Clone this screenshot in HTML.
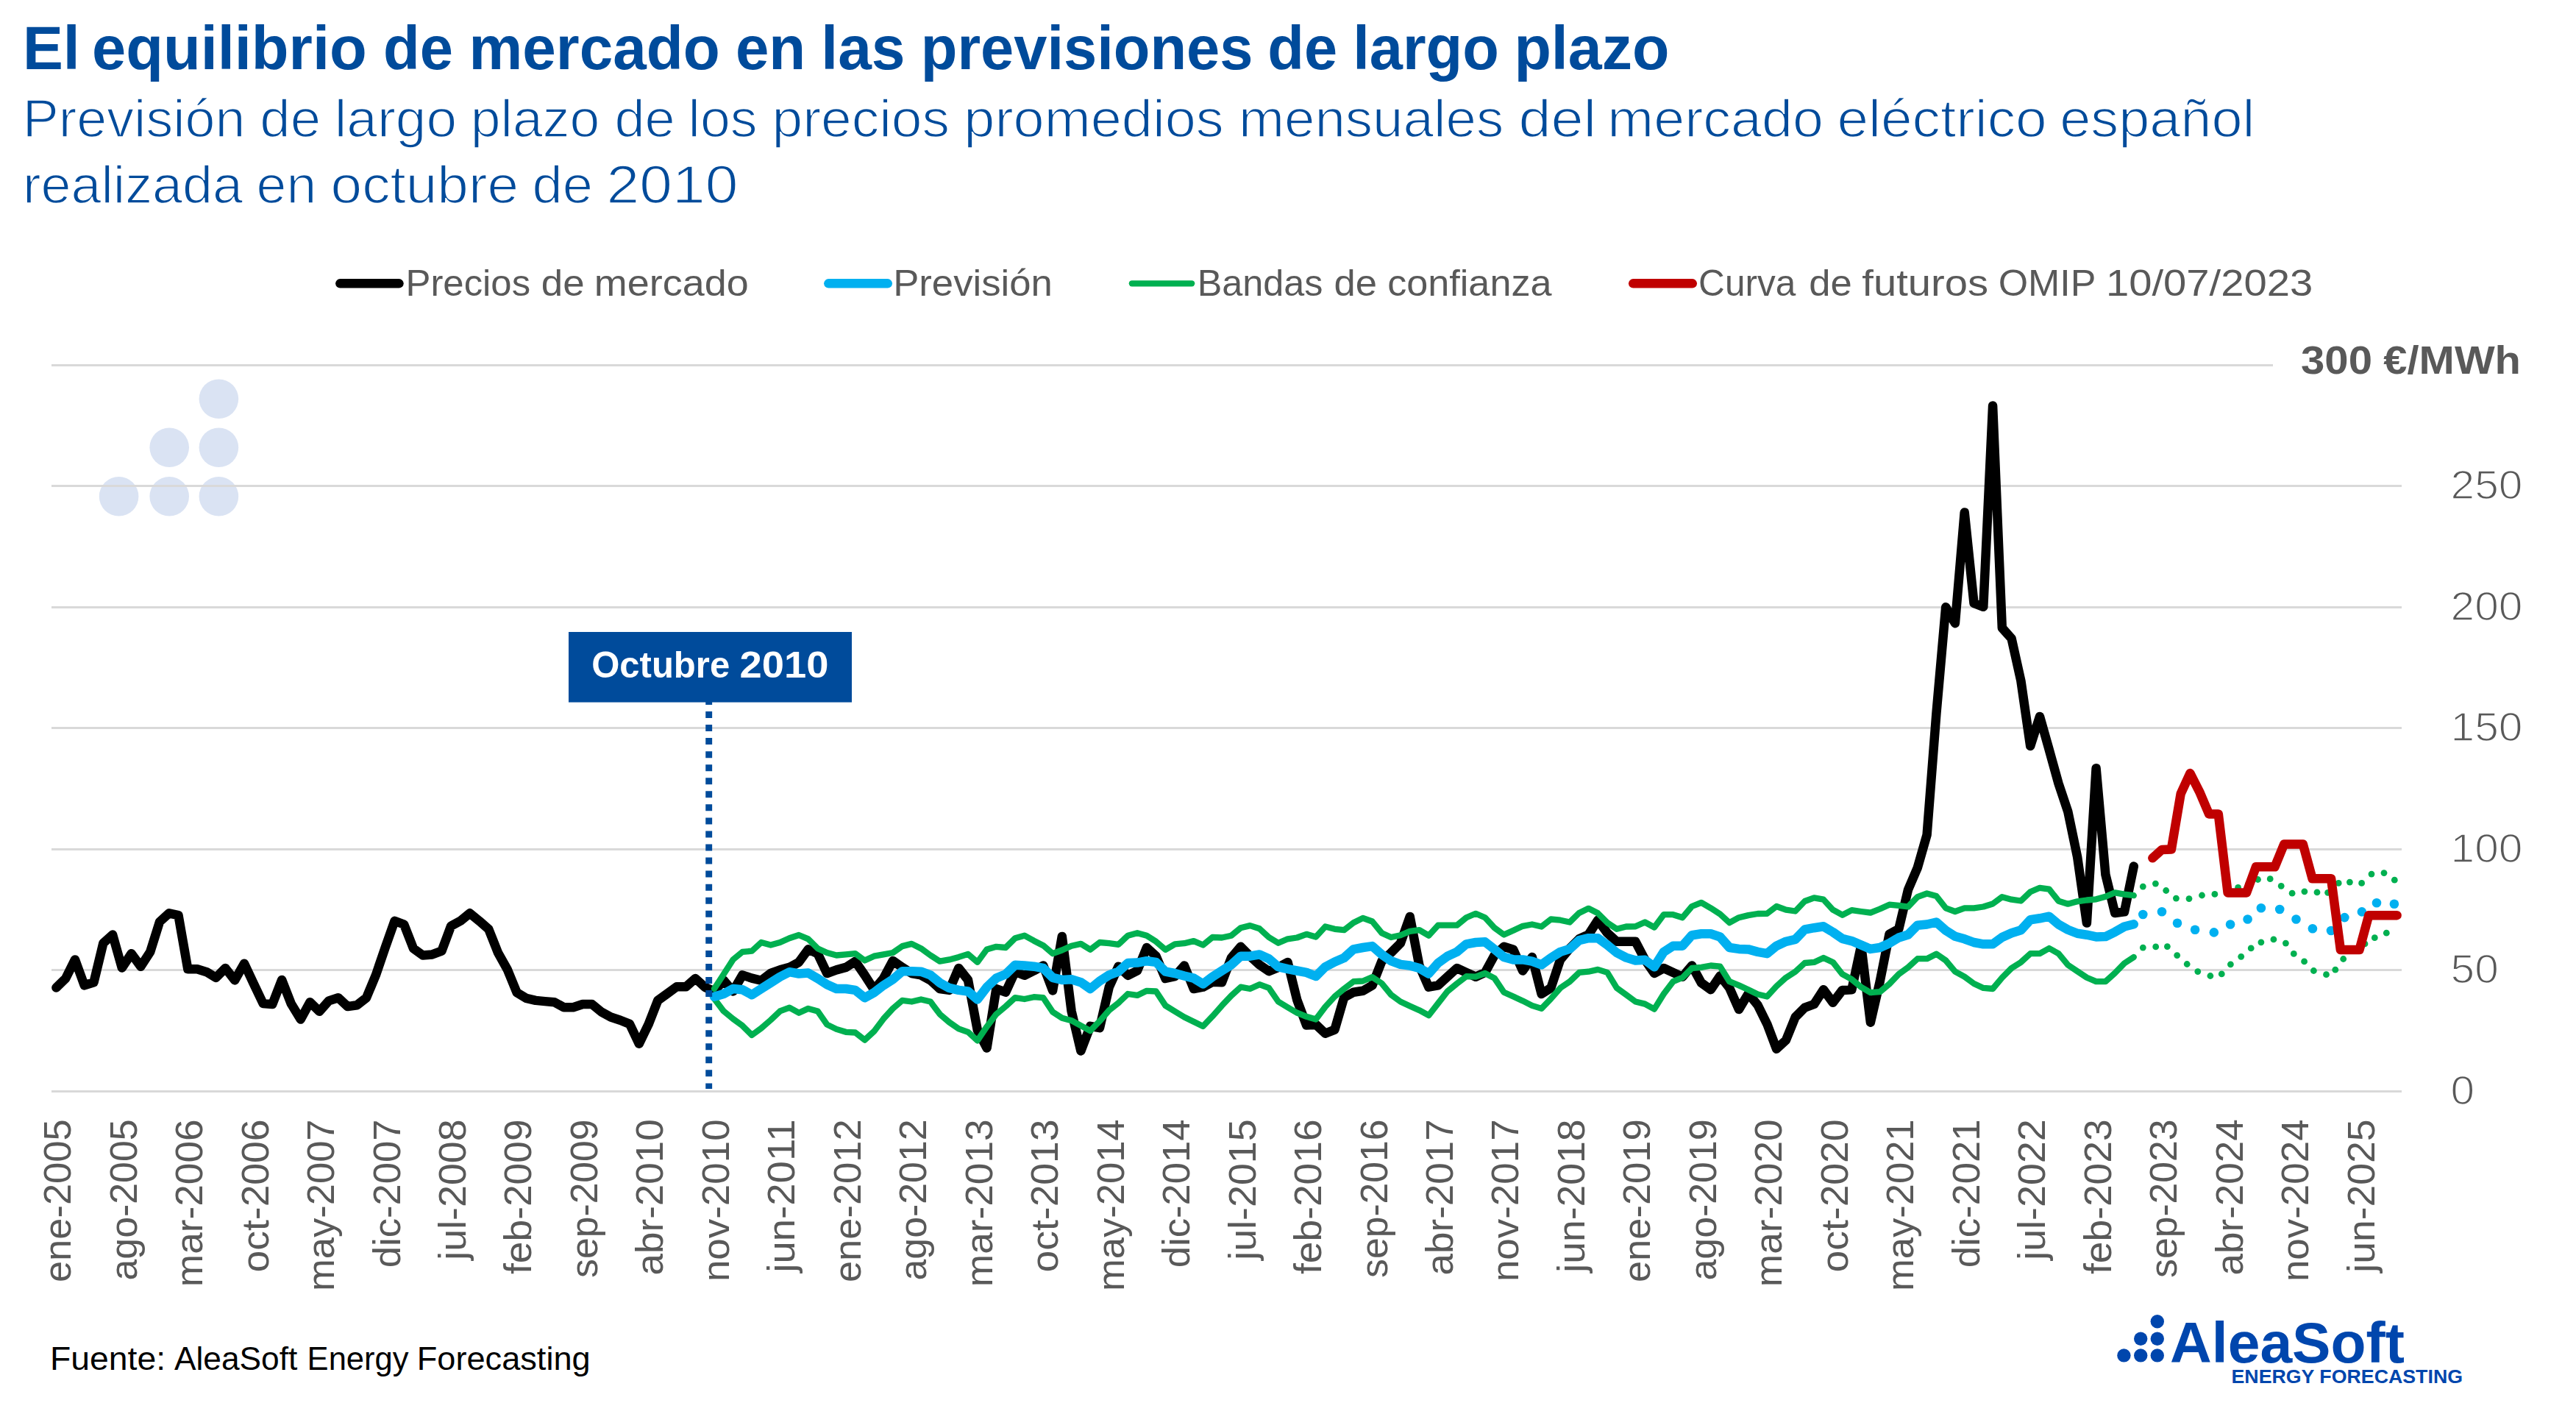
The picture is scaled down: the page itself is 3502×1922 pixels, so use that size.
<!DOCTYPE html>
<html><head><meta charset="utf-8"><title>El equilibrio de mercado en las previsiones de largo plazo</title>
<style>
html,body{margin:0;padding:0;background:#fff;}
body{width:3502px;height:1922px;overflow:hidden;}
svg{display:block;font-family:"Liberation Sans",sans-serif;}
text{white-space:pre;}
</style></head><body>
<svg width="3502" height="1922" viewBox="0 0 3502 1922">
<rect width="3502" height="1922" fill="#fff"/>
<text x="31.0" y="93.9" font-size="83" font-weight="bold" fill="#004B9B" text-anchor="start" textLength="77.7" lengthAdjust="spacingAndGlyphs">El</text>
<text x="125.0" y="93.9" font-size="83" font-weight="bold" fill="#004B9B" text-anchor="start" textLength="373.7" lengthAdjust="spacingAndGlyphs">equilibrio</text>
<text x="521.0" y="93.9" font-size="83" font-weight="bold" fill="#004B9B" text-anchor="start" textLength="95.0" lengthAdjust="spacingAndGlyphs">de</text>
<text x="637.4" y="93.9" font-size="83" font-weight="bold" fill="#004B9B" text-anchor="start" textLength="341.4" lengthAdjust="spacingAndGlyphs">mercado</text>
<text x="999.9" y="93.9" font-size="83" font-weight="bold" fill="#004B9B" text-anchor="start" textLength="95.4" lengthAdjust="spacingAndGlyphs">en</text>
<text x="1116.3" y="93.9" font-size="83" font-weight="bold" fill="#004B9B" text-anchor="start" textLength="114.3" lengthAdjust="spacingAndGlyphs">las</text>
<text x="1251.8" y="93.9" font-size="83" font-weight="bold" fill="#004B9B" text-anchor="start" textLength="451.7" lengthAdjust="spacingAndGlyphs">previsiones</text>
<text x="1723.3" y="93.9" font-size="83" font-weight="bold" fill="#004B9B" text-anchor="start" textLength="94.8" lengthAdjust="spacingAndGlyphs">de</text>
<text x="1839.2" y="93.9" font-size="83" font-weight="bold" fill="#004B9B" text-anchor="start" textLength="198.6" lengthAdjust="spacingAndGlyphs">largo</text>
<text x="2058.4" y="93.9" font-size="83" font-weight="bold" fill="#004B9B" text-anchor="start" textLength="211.1" lengthAdjust="spacingAndGlyphs">plazo</text>
<text x="30.8" y="186.0" font-size="72.2" font-weight="normal" fill="#004B9B" text-anchor="start" textLength="302.6" lengthAdjust="spacingAndGlyphs" stroke="#fff" stroke-width="1.6">Previsión</text>
<text x="353.3" y="186.0" font-size="72.2" font-weight="normal" fill="#004B9B" text-anchor="start" textLength="82.8" lengthAdjust="spacingAndGlyphs" stroke="#fff" stroke-width="1.6">de</text>
<text x="454.7" y="186.0" font-size="72.2" font-weight="normal" fill="#004B9B" text-anchor="start" textLength="166.3" lengthAdjust="spacingAndGlyphs" stroke="#fff" stroke-width="1.6">largo</text>
<text x="639.8" y="186.0" font-size="72.2" font-weight="normal" fill="#004B9B" text-anchor="start" textLength="175.5" lengthAdjust="spacingAndGlyphs" stroke="#fff" stroke-width="1.6">plazo</text>
<text x="835.4" y="186.0" font-size="72.2" font-weight="normal" fill="#004B9B" text-anchor="start" textLength="82.4" lengthAdjust="spacingAndGlyphs" stroke="#fff" stroke-width="1.6">de</text>
<text x="935.6" y="186.0" font-size="72.2" font-weight="normal" fill="#004B9B" text-anchor="start" textLength="94.0" lengthAdjust="spacingAndGlyphs" stroke="#fff" stroke-width="1.6">los</text>
<text x="1049.5" y="186.0" font-size="72.2" font-weight="normal" fill="#004B9B" text-anchor="start" textLength="241.5" lengthAdjust="spacingAndGlyphs" stroke="#fff" stroke-width="1.6">precios</text>
<text x="1310.3" y="186.0" font-size="72.2" font-weight="normal" fill="#004B9B" text-anchor="start" textLength="353.4" lengthAdjust="spacingAndGlyphs" stroke="#fff" stroke-width="1.6">promedios</text>
<text x="1683.9" y="186.0" font-size="72.2" font-weight="normal" fill="#004B9B" text-anchor="start" textLength="360.3" lengthAdjust="spacingAndGlyphs" stroke="#fff" stroke-width="1.6">mensuales</text>
<text x="2064.4" y="186.0" font-size="72.2" font-weight="normal" fill="#004B9B" text-anchor="start" textLength="105.8" lengthAdjust="spacingAndGlyphs" stroke="#fff" stroke-width="1.6">del</text>
<text x="2185.3" y="186.0" font-size="72.2" font-weight="normal" fill="#004B9B" text-anchor="start" textLength="293.6" lengthAdjust="spacingAndGlyphs" stroke="#fff" stroke-width="1.6">mercado</text>
<text x="2497.4" y="186.0" font-size="72.2" font-weight="normal" fill="#004B9B" text-anchor="start" textLength="285.2" lengthAdjust="spacingAndGlyphs" stroke="#fff" stroke-width="1.6">eléctrico</text>
<text x="2800.2" y="186.0" font-size="72.2" font-weight="normal" fill="#004B9B" text-anchor="start" textLength="265.2" lengthAdjust="spacingAndGlyphs" stroke="#fff" stroke-width="1.6">español</text>
<text x="30.9" y="276.0" font-size="72.2" font-weight="normal" fill="#004B9B" text-anchor="start" textLength="299.2" lengthAdjust="spacingAndGlyphs" stroke="#fff" stroke-width="1.6">realizada</text>
<text x="348.6" y="276.0" font-size="72.2" font-weight="normal" fill="#004B9B" text-anchor="start" textLength="81.6" lengthAdjust="spacingAndGlyphs" stroke="#fff" stroke-width="1.6">en</text>
<text x="449.6" y="276.0" font-size="72.2" font-weight="normal" fill="#004B9B" text-anchor="start" textLength="255.4" lengthAdjust="spacingAndGlyphs" stroke="#fff" stroke-width="1.6">octubre</text>
<text x="723.6" y="276.0" font-size="72.2" font-weight="normal" fill="#004B9B" text-anchor="start" textLength="82.4" lengthAdjust="spacingAndGlyphs" stroke="#fff" stroke-width="1.6">de</text>
<text x="824.6" y="276.0" font-size="72.2" font-weight="normal" fill="#004B9B" text-anchor="start" textLength="178.8" lengthAdjust="spacingAndGlyphs" stroke="#fff" stroke-width="1.6">2010</text>
<line x1="70" y1="496.5" x2="3090" y2="496.5" stroke="#D9D9D9" stroke-width="3"/>
<line x1="70" y1="660.5" x2="3265" y2="660.5" stroke="#D9D9D9" stroke-width="3"/>
<line x1="70" y1="825.5" x2="3265" y2="825.5" stroke="#D9D9D9" stroke-width="3"/>
<line x1="70" y1="989.5" x2="3265" y2="989.5" stroke="#D9D9D9" stroke-width="3"/>
<line x1="70" y1="1154.5" x2="3265" y2="1154.5" stroke="#D9D9D9" stroke-width="3"/>
<line x1="70" y1="1318.5" x2="3265" y2="1318.5" stroke="#D9D9D9" stroke-width="3"/>
<line x1="70" y1="1483.5" x2="3265" y2="1483.5" stroke="#D9D9D9" stroke-width="3"/>
<circle cx="297.4" cy="542.2" r="26.8" fill="#DAE3F3"/>
<circle cx="230.2" cy="608.3" r="26.8" fill="#DAE3F3"/>
<circle cx="297.4" cy="608.3" r="26.8" fill="#DAE3F3"/>
<circle cx="161.6" cy="674.8" r="26.8" fill="#DAE3F3"/>
<circle cx="230.2" cy="674.8" r="26.8" fill="#DAE3F3"/>
<circle cx="297.4" cy="674.8" r="26.8" fill="#DAE3F3"/>
<line x1="70" y1="660.5" x2="3265" y2="660.5" stroke="#D9D9D9" stroke-width="3"/>
<text x="3128.0" y="508.0" font-size="54.5" font-weight="bold" fill="#595959" text-anchor="start" textLength="97.0" lengthAdjust="spacingAndGlyphs">300</text>
<text x="3240.3" y="508.0" font-size="54.5" font-weight="bold" fill="#595959" text-anchor="start" textLength="186.7" lengthAdjust="spacingAndGlyphs">€/MWh</text>
<text x="3331.6" y="677.7" font-size="56" font-weight="normal" fill="#595959" text-anchor="start" textLength="97.8" lengthAdjust="spacingAndGlyphs" stroke="#fff" stroke-width="1.5">250</text>
<text x="3331.6" y="842.7" font-size="56" font-weight="normal" fill="#595959" text-anchor="start" textLength="97.8" lengthAdjust="spacingAndGlyphs" stroke="#fff" stroke-width="1.5">200</text>
<text x="3331.6" y="1006.7" font-size="56" font-weight="normal" fill="#595959" text-anchor="start" textLength="97.8" lengthAdjust="spacingAndGlyphs" stroke="#fff" stroke-width="1.5">150</text>
<text x="3331.6" y="1171.7" font-size="56" font-weight="normal" fill="#595959" text-anchor="start" textLength="97.8" lengthAdjust="spacingAndGlyphs" stroke="#fff" stroke-width="1.5">100</text>
<text x="3331.6" y="1335.7" font-size="56" font-weight="normal" fill="#595959" text-anchor="start" textLength="65.2" lengthAdjust="spacingAndGlyphs" stroke="#fff" stroke-width="1.5">50</text>
<text x="3331.6" y="1500.7" font-size="56" font-weight="normal" fill="#595959" text-anchor="start" textLength="32.6" lengthAdjust="spacingAndGlyphs" stroke="#fff" stroke-width="1.5">0</text>
<path d="M76.4 1342.4 L89.2 1330.0 L102.0 1304.4 L114.7 1339.4 L127.5 1335.2 L140.3 1282.2 L153.1 1270.5 L165.8 1315.6 L178.6 1296.2 L191.4 1313.7 L204.2 1293.9 L217.0 1253.0 L229.8 1241.3 L242.5 1244.1 L255.3 1317.2 L268.1 1317.2 L280.9 1321.2 L293.6 1328.9 L306.4 1316.0 L319.2 1332.4 L332.0 1309.7 L344.8 1337.0 L357.6 1363.9 L370.3 1365.0 L383.1 1331.9 L395.9 1364.6 L408.7 1385.6 L421.4 1362.2 L434.2 1374.8 L447.0 1360.4 L459.8 1356.2 L472.6 1368.1 L485.3 1366.2 L498.1 1356.2 L510.9 1325.4 L523.7 1288.0 L536.5 1251.8 L549.2 1256.5 L562.0 1289.2 L574.8 1298.5 L587.6 1297.4 L600.4 1292.7 L613.1 1258.8 L625.9 1251.8 L638.7 1241.3 L651.5 1251.8 L664.3 1263.0 L677.0 1295.0 L689.8 1317.9 L702.6 1349.2 L715.4 1356.9 L728.2 1359.9 L740.9 1361.1 L753.7 1362.2 L766.5 1369.2 L779.3 1369.2 L792.1 1365.0 L804.8 1365.0 L817.6 1375.5 L830.4 1382.5 L843.2 1386.7 L856.0 1391.9 L868.8 1418.7 L881.5 1392.6 L894.3 1359.9 L907.1 1350.6 L919.9 1341.2 L932.6 1341.2 L945.4 1330.0 L958.2 1341.7 L971.0 1347.5 L983.8 1332.4 L996.5 1347.5 L1009.3 1325.4 L1022.1 1329.6 L1034.9 1332.8 L1047.7 1323.0 L1060.4 1318.4 L1073.2 1314.9 L1086.0 1307.9 L1098.8 1290.4 L1111.6 1296.2 L1124.3 1323.0 L1137.1 1318.4 L1149.9 1314.9 L1162.7 1306.7 L1175.5 1325.4 L1188.2 1345.2 L1201.0 1330.0 L1213.8 1306.0 L1226.6 1314.9 L1239.4 1323.0 L1252.1 1325.4 L1264.9 1332.4 L1277.7 1344.0 L1290.5 1345.9 L1303.3 1316.0 L1316.0 1332.0 L1328.8 1400.0 L1341.6 1424.5 L1354.4 1344.0 L1367.2 1348.7 L1380.0 1320.7 L1392.7 1325.8 L1405.5 1319.5 L1418.3 1312.5 L1431.1 1346.4 L1443.8 1272.9 L1456.6 1374.4 L1469.4 1428.5 L1482.2 1394.9 L1495.0 1397.2 L1507.8 1341.7 L1520.5 1313.7 L1533.3 1325.8 L1546.1 1319.5 L1558.9 1288.0 L1571.6 1299.7 L1584.4 1330.0 L1597.2 1327.2 L1610.0 1312.5 L1622.8 1344.0 L1635.5 1341.7 L1648.3 1334.7 L1661.1 1335.2 L1673.9 1302.0 L1686.7 1286.8 L1699.4 1299.7 L1712.2 1311.4 L1725.0 1320.2 L1737.8 1314.9 L1750.6 1307.9 L1763.3 1359.2 L1776.1 1393.5 L1788.9 1392.6 L1801.7 1404.7 L1814.5 1399.6 L1827.2 1355.7 L1840.0 1348.7 L1852.8 1346.8 L1865.6 1339.4 L1878.4 1306.7 L1891.1 1295.0 L1903.9 1282.2 L1916.7 1246.0 L1929.5 1312.5 L1942.3 1341.7 L1955.0 1339.4 L1967.8 1327.7 L1980.6 1316.0 L1993.4 1321.9 L2006.2 1327.7 L2018.9 1321.9 L2031.7 1298.5 L2044.5 1286.8 L2057.3 1290.8 L2070.1 1319.5 L2082.8 1300.9 L2095.6 1351.0 L2108.4 1342.9 L2121.2 1304.4 L2134.0 1289.2 L2146.8 1276.3 L2159.5 1270.5 L2172.3 1250.7 L2185.1 1268.2 L2197.9 1279.8 L2210.7 1279.8 L2223.4 1279.8 L2236.2 1304.4 L2249.0 1323.0 L2261.8 1316.0 L2274.5 1321.9 L2287.3 1327.7 L2300.1 1312.5 L2312.9 1335.9 L2325.7 1345.2 L2338.4 1326.5 L2351.2 1342.9 L2364.0 1372.0 L2376.8 1350.6 L2389.6 1366.2 L2402.3 1391.9 L2415.1 1425.7 L2427.9 1414.0 L2440.7 1382.5 L2453.5 1369.7 L2466.2 1365.0 L2479.0 1345.2 L2491.8 1362.7 L2504.6 1345.9 L2517.4 1345.2 L2530.2 1285.4 L2542.9 1389.7 L2555.7 1334.1 L2568.5 1269.7 L2581.3 1262.7 L2594.0 1209.4 L2606.8 1179.5 L2619.6 1134.8 L2632.4 969.9 L2645.2 825.2 L2657.9 847.2 L2670.7 696.5 L2683.5 819.9 L2696.3 824.8 L2709.1 551.4 L2721.8 853.5 L2734.6 867.9 L2747.4 925.5 L2760.2 1014.0 L2773.0 973.9 L2785.8 1019.3 L2798.5 1065.0 L2811.3 1103.2 L2824.1 1164.7 L2836.9 1254.5 L2849.6 1044.3 L2862.4 1188.7 L2875.2 1241.0 L2888.0 1239.4 L2900.8 1177.5" fill="none" stroke="#000" stroke-width="12.5" stroke-linecap="round" stroke-linejoin="round"/>
<path d="M971.0 1344.0 L983.8 1324.2 L996.5 1304.4 L1009.3 1293.9 L1022.1 1292.7 L1034.9 1281.0 L1047.7 1284.5 L1060.4 1281.0 L1073.2 1275.2 L1086.0 1271.0 L1098.8 1276.3 L1111.6 1289.2 L1124.3 1295.0 L1137.1 1298.5 L1149.9 1297.4 L1162.7 1296.2 L1175.5 1305.5 L1188.2 1299.7 L1201.0 1297.4 L1213.8 1295.0 L1226.6 1286.1 L1239.4 1282.9 L1252.1 1289.2 L1264.9 1298.5 L1277.7 1306.7 L1290.5 1304.4 L1303.3 1300.9 L1316.0 1296.9 L1328.8 1307.9 L1341.6 1290.4 L1354.4 1286.8 L1367.2 1288.0 L1380.0 1275.2 L1392.7 1271.7 L1405.5 1278.7 L1418.3 1285.2 L1431.1 1296.2 L1443.8 1291.5 L1456.6 1285.7 L1469.4 1282.9 L1482.2 1290.8 L1495.0 1281.0 L1507.8 1282.2 L1520.5 1283.8 L1533.3 1271.7 L1546.1 1268.2 L1558.9 1271.7 L1571.6 1279.8 L1584.4 1290.8 L1597.2 1283.3 L1610.0 1282.2 L1622.8 1279.1 L1635.5 1284.5 L1648.3 1274.0 L1661.1 1274.5 L1673.9 1271.7 L1686.7 1261.2 L1699.4 1258.1 L1712.2 1262.3 L1725.0 1274.0 L1737.8 1281.7 L1750.6 1276.3 L1763.3 1274.5 L1776.1 1269.8 L1788.9 1273.5 L1801.7 1259.5 L1814.5 1262.8 L1827.2 1264.2 L1840.0 1254.2 L1852.8 1247.9 L1865.6 1252.5 L1878.4 1268.2 L1891.1 1274.0 L1903.9 1271.2 L1916.7 1265.8 L1929.5 1264.2 L1942.3 1271.7 L1955.0 1257.7 L1967.8 1257.7 L1980.6 1257.7 L1993.4 1247.2 L2006.2 1241.8 L2018.9 1247.2 L2031.7 1261.2 L2044.5 1270.5 L2057.3 1264.7 L2070.1 1258.8 L2082.8 1256.5 L2095.6 1259.5 L2108.4 1249.5 L2121.2 1250.7 L2134.0 1253.5 L2146.8 1240.9 L2159.5 1234.8 L2172.3 1241.3 L2185.1 1254.2 L2197.9 1262.8 L2210.7 1259.5 L2223.4 1259.3 L2236.2 1253.5 L2249.0 1260.5 L2261.8 1243.2 L2274.5 1243.2 L2287.3 1247.2 L2300.1 1232.0 L2312.9 1226.9 L2325.7 1234.3 L2338.4 1242.5 L2351.2 1254.2 L2364.0 1247.2 L2376.8 1244.1 L2389.6 1242.0 L2402.3 1241.8 L2415.1 1232.0 L2427.9 1236.7 L2440.7 1238.5 L2453.5 1225.0 L2466.2 1220.3 L2479.0 1222.7 L2491.8 1236.7 L2504.6 1243.7 L2517.4 1237.1 L2530.2 1239.0 L2542.9 1240.6 L2555.7 1235.5 L2568.5 1229.7 L2581.3 1230.8 L2594.0 1232.5 L2606.8 1219.2 L2619.6 1214.5 L2632.4 1218.0 L2645.2 1234.3 L2657.9 1239.0 L2670.7 1234.3 L2683.5 1234.3 L2696.3 1232.5 L2709.1 1228.5 L2721.8 1219.2 L2734.6 1222.7 L2747.4 1224.5 L2760.2 1212.2 L2773.0 1206.8 L2785.8 1208.7 L2798.5 1224.7 L2811.3 1228.7 L2824.1 1225.3 L2836.9 1223.5 L2849.6 1222.3 L2862.4 1218.7 L2875.2 1213.3 L2888.0 1215.7 L2900.8 1217.2" fill="none" stroke="#00B050" stroke-width="8.3" stroke-linecap="round" stroke-linejoin="round"/>
<path d="M971.0 1357.5 L983.8 1374.4 L996.5 1384.9 L1009.3 1394.2 L1022.1 1407.0 L1034.9 1397.7 L1047.7 1386.5 L1060.4 1374.4 L1073.2 1369.7 L1086.0 1376.7 L1098.8 1370.9 L1111.6 1374.4 L1124.3 1392.6 L1137.1 1398.9 L1149.9 1402.8 L1162.7 1403.5 L1175.5 1413.6 L1188.2 1401.9 L1201.0 1384.9 L1213.8 1370.9 L1226.6 1359.9 L1239.4 1361.5 L1252.1 1358.5 L1264.9 1361.5 L1277.7 1378.6 L1290.5 1389.5 L1303.3 1398.4 L1316.0 1402.8 L1328.8 1414.5 L1341.6 1395.4 L1354.4 1378.6 L1367.2 1367.8 L1380.0 1356.2 L1392.7 1358.0 L1405.5 1355.2 L1418.3 1356.2 L1431.1 1375.5 L1443.8 1383.7 L1456.6 1387.2 L1469.4 1394.2 L1482.2 1401.2 L1495.0 1387.9 L1507.8 1373.2 L1520.5 1363.2 L1533.3 1351.0 L1546.1 1352.9 L1558.9 1346.8 L1571.6 1347.5 L1584.4 1366.9 L1597.2 1374.8 L1610.0 1382.5 L1622.8 1388.8 L1635.5 1394.9 L1648.3 1381.4 L1661.1 1366.9 L1673.9 1353.4 L1686.7 1341.7 L1699.4 1344.0 L1712.2 1338.2 L1725.0 1342.9 L1737.8 1361.5 L1750.6 1369.2 L1763.3 1376.7 L1776.1 1381.8 L1788.9 1385.6 L1801.7 1368.5 L1814.5 1354.5 L1827.2 1344.0 L1840.0 1334.2 L1852.8 1333.5 L1865.6 1328.2 L1878.4 1336.6 L1891.1 1352.2 L1903.9 1361.5 L1916.7 1367.4 L1929.5 1373.2 L1942.3 1380.2 L1955.0 1363.9 L1967.8 1347.5 L1980.6 1337.0 L1993.4 1327.2 L2006.2 1327.7 L2018.9 1323.0 L2031.7 1329.6 L2044.5 1348.7 L2057.3 1354.5 L2070.1 1360.4 L2082.8 1366.9 L2095.6 1370.9 L2108.4 1357.6 L2121.2 1342.9 L2134.0 1334.2 L2146.8 1321.9 L2159.5 1320.7 L2172.3 1317.9 L2185.1 1321.9 L2197.9 1342.9 L2210.7 1352.2 L2223.4 1361.5 L2236.2 1364.6 L2249.0 1371.6 L2261.8 1351.0 L2274.5 1334.2 L2287.3 1328.9 L2300.1 1316.0 L2312.9 1314.9 L2325.7 1312.5 L2338.4 1313.7 L2351.2 1334.2 L2364.0 1339.4 L2376.8 1345.2 L2389.6 1351.5 L2402.3 1354.5 L2415.1 1340.5 L2427.9 1328.9 L2440.7 1320.7 L2453.5 1309.0 L2466.2 1307.9 L2479.0 1302.0 L2491.8 1307.9 L2504.6 1324.2 L2517.4 1331.2 L2530.2 1341.7 L2542.9 1349.2 L2555.7 1348.2 L2568.5 1337.5 L2581.3 1324.2 L2594.0 1314.9 L2606.8 1303.2 L2619.6 1303.2 L2632.4 1296.7 L2645.2 1305.5 L2657.9 1320.7 L2670.7 1327.7 L2683.5 1337.0 L2696.3 1342.9 L2709.1 1344.0 L2721.8 1328.9 L2734.6 1316.0 L2747.4 1307.9 L2760.2 1296.2 L2773.0 1296.2 L2785.8 1289.0 L2798.5 1296.2 L2811.3 1311.6 L2824.1 1320.2 L2836.9 1328.7 L2849.6 1334.1 L2862.4 1334.1 L2875.2 1322.6 L2888.0 1309.4 L2900.8 1301.0" fill="none" stroke="#00B050" stroke-width="8.3" stroke-linecap="round" stroke-linejoin="round"/>
<path d="M971.0 1354.7 L983.8 1351.0 L996.5 1344.0 L1009.3 1345.2 L1022.1 1352.2 L1034.9 1344.0 L1047.7 1335.9 L1060.4 1327.7 L1073.2 1321.2 L1086.0 1323.5 L1098.8 1322.6 L1111.6 1330.0 L1124.3 1338.2 L1137.1 1344.0 L1149.9 1344.0 L1162.7 1345.9 L1175.5 1356.2 L1188.2 1349.2 L1201.0 1339.4 L1213.8 1331.2 L1226.6 1320.2 L1239.4 1320.2 L1252.1 1320.7 L1264.9 1325.4 L1277.7 1335.9 L1290.5 1342.9 L1303.3 1345.9 L1316.0 1347.5 L1328.8 1358.5 L1341.6 1341.7 L1354.4 1329.6 L1367.2 1324.2 L1380.0 1311.8 L1392.7 1312.5 L1405.5 1313.7 L1418.3 1316.0 L1431.1 1328.9 L1443.8 1331.9 L1456.6 1331.2 L1469.4 1335.2 L1482.2 1344.0 L1495.0 1333.5 L1507.8 1325.4 L1520.5 1320.7 L1533.3 1309.0 L1546.1 1308.6 L1558.9 1306.2 L1571.6 1307.9 L1584.4 1320.7 L1597.2 1323.0 L1610.0 1326.5 L1622.8 1329.6 L1635.5 1337.5 L1648.3 1327.7 L1661.1 1319.5 L1673.9 1311.4 L1686.7 1299.7 L1699.4 1299.7 L1712.2 1297.4 L1725.0 1303.2 L1737.8 1314.2 L1750.6 1317.2 L1763.3 1319.5 L1776.1 1321.9 L1788.9 1327.0 L1801.7 1314.2 L1814.5 1307.4 L1827.2 1302.0 L1840.0 1290.4 L1852.8 1288.0 L1865.6 1286.1 L1878.4 1297.4 L1891.1 1306.2 L1903.9 1310.9 L1916.7 1312.5 L1929.5 1316.0 L1942.3 1323.5 L1955.0 1309.0 L1967.8 1299.7 L1980.6 1293.9 L1993.4 1283.3 L2006.2 1281.0 L2018.9 1280.3 L2031.7 1290.4 L2044.5 1300.9 L2057.3 1304.4 L2070.1 1304.4 L2082.8 1306.7 L2095.6 1311.4 L2108.4 1302.0 L2121.2 1293.9 L2134.0 1289.9 L2146.8 1278.2 L2159.5 1275.2 L2172.3 1275.2 L2185.1 1284.5 L2197.9 1295.0 L2210.7 1301.6 L2223.4 1305.5 L2236.2 1304.8 L2249.0 1314.2 L2261.8 1293.9 L2274.5 1285.7 L2287.3 1285.7 L2300.1 1271.2 L2312.9 1269.3 L2325.7 1269.3 L2338.4 1273.5 L2351.2 1288.0 L2364.0 1289.9 L2376.8 1290.4 L2389.6 1293.9 L2402.3 1296.2 L2415.1 1285.7 L2427.9 1279.8 L2440.7 1276.8 L2453.5 1263.5 L2466.2 1261.2 L2479.0 1259.3 L2491.8 1267.0 L2504.6 1275.9 L2517.4 1279.1 L2530.2 1284.5 L2542.9 1289.9 L2555.7 1288.0 L2568.5 1282.2 L2581.3 1274.5 L2594.0 1270.5 L2606.8 1257.7 L2619.6 1256.5 L2632.4 1253.5 L2645.2 1264.7 L2657.9 1272.8 L2670.7 1276.3 L2683.5 1281.0 L2696.3 1283.3 L2709.1 1283.3 L2721.8 1274.0 L2734.6 1268.2 L2747.4 1264.2 L2760.2 1250.2 L2773.0 1248.3 L2785.8 1245.7 L2798.5 1256.5 L2811.3 1263.8 L2824.1 1268.8 L2836.9 1270.7 L2849.6 1273.4 L2862.4 1273.1 L2875.2 1266.8 L2888.0 1259.5 L2900.8 1256.3" fill="none" stroke="#00B0F0" stroke-width="12.5" stroke-linecap="round" stroke-linejoin="round"/>
<circle cx="2913.3" cy="1205.1" r="4.4" fill="#00B050"/>
<circle cx="2930.4" cy="1201.1" r="4.4" fill="#00B050"/>
<circle cx="2944.7" cy="1210.5" r="4.4" fill="#00B050"/>
<circle cx="2958.4" cy="1221.1" r="4.4" fill="#00B050"/>
<circle cx="2976.0" cy="1221.6" r="4.4" fill="#00B050"/>
<circle cx="2993.5" cy="1217.0" r="4.4" fill="#00B050"/>
<circle cx="3010.9" cy="1215.4" r="4.4" fill="#00B050"/>
<circle cx="3027.2" cy="1211.3" r="4.4" fill="#00B050"/>
<circle cx="3042.6" cy="1206.4" r="4.4" fill="#00B050"/>
<circle cx="3056.5" cy="1201.6" r="4.4" fill="#00B050"/>
<circle cx="3069.5" cy="1195.5" r="4.4" fill="#00B050"/>
<circle cx="3086.2" cy="1194.7" r="4.4" fill="#00B050"/>
<circle cx="3101.2" cy="1204.3" r="4.4" fill="#00B050"/>
<circle cx="3116.1" cy="1214.2" r="4.4" fill="#00B050"/>
<circle cx="3132.9" cy="1211.8" r="4.4" fill="#00B050"/>
<circle cx="3150.0" cy="1212.9" r="4.4" fill="#00B050"/>
<circle cx="3164.6" cy="1213.3" r="4.4" fill="#00B050"/>
<circle cx="3179.2" cy="1200.4" r="4.4" fill="#00B050"/>
<circle cx="3194.4" cy="1199.1" r="4.4" fill="#00B050"/>
<circle cx="3210.6" cy="1200.4" r="4.4" fill="#00B050"/>
<circle cx="3224.0" cy="1188.1" r="4.4" fill="#00B050"/>
<circle cx="3241.0" cy="1186.6" r="4.4" fill="#00B050"/>
<circle cx="3255.3" cy="1196.2" r="4.4" fill="#00B050"/>
<circle cx="2913.3" cy="1288.1" r="4.4" fill="#00B050"/>
<circle cx="2930.7" cy="1286.9" r="4.4" fill="#00B050"/>
<circle cx="2946.4" cy="1286.6" r="4.4" fill="#00B050"/>
<circle cx="2959.7" cy="1298.6" r="4.4" fill="#00B050"/>
<circle cx="2973.2" cy="1310.5" r="4.4" fill="#00B050"/>
<circle cx="2987.8" cy="1320.6" r="4.4" fill="#00B050"/>
<circle cx="3004.9" cy="1326.5" r="4.4" fill="#00B050"/>
<circle cx="3020.3" cy="1323.9" r="4.4" fill="#00B050"/>
<circle cx="3032.4" cy="1310.8" r="4.4" fill="#00B050"/>
<circle cx="3046.7" cy="1300.3" r="4.4" fill="#00B050"/>
<circle cx="3060.2" cy="1288.9" r="4.4" fill="#00B050"/>
<circle cx="3073.9" cy="1280.8" r="4.4" fill="#00B050"/>
<circle cx="3090.9" cy="1276.9" r="4.4" fill="#00B050"/>
<circle cx="3107.4" cy="1282.1" r="4.4" fill="#00B050"/>
<circle cx="3118.3" cy="1296.4" r="4.4" fill="#00B050"/>
<circle cx="3132.6" cy="1306.9" r="4.4" fill="#00B050"/>
<circle cx="3145.4" cy="1319.5" r="4.4" fill="#00B050"/>
<circle cx="3162.5" cy="1324.7" r="4.4" fill="#00B050"/>
<circle cx="3174.8" cy="1318.2" r="4.4" fill="#00B050"/>
<circle cx="3185.7" cy="1303.5" r="4.4" fill="#00B050"/>
<circle cx="3198.8" cy="1291.0" r="4.4" fill="#00B050"/>
<circle cx="3215.0" cy="1282.9" r="4.4" fill="#00B050"/>
<circle cx="3228.3" cy="1274.7" r="4.4" fill="#00B050"/>
<circle cx="3244.3" cy="1268.2" r="4.4" fill="#00B050"/>
<circle cx="2913.3" cy="1243.0" r="6.3" fill="#00B0F0"/>
<circle cx="2939.0" cy="1239.3" r="6.3" fill="#00B0F0"/>
<circle cx="2960.0" cy="1254.7" r="6.3" fill="#00B0F0"/>
<circle cx="2984.1" cy="1263.7" r="6.3" fill="#00B0F0"/>
<circle cx="3009.8" cy="1267.4" r="6.3" fill="#00B0F0"/>
<circle cx="3032.1" cy="1256.5" r="6.3" fill="#00B0F0"/>
<circle cx="3055.6" cy="1249.5" r="6.3" fill="#00B0F0"/>
<circle cx="3073.9" cy="1234.2" r="6.3" fill="#00B0F0"/>
<circle cx="3099.2" cy="1236.0" r="6.3" fill="#00B0F0"/>
<circle cx="3121.5" cy="1249.5" r="6.3" fill="#00B0F0"/>
<circle cx="3143.9" cy="1262.2" r="6.3" fill="#00B0F0"/>
<circle cx="3169.0" cy="1265.0" r="6.3" fill="#00B0F0"/>
<circle cx="3187.4" cy="1247.1" r="6.3" fill="#00B0F0"/>
<circle cx="3210.9" cy="1239.4" r="6.3" fill="#00B0F0"/>
<circle cx="3231.0" cy="1227.3" r="6.3" fill="#00B0F0"/>
<circle cx="3254.9" cy="1228.7" r="6.3" fill="#00B0F0"/>
<path d="M2926.3 1166.3 L2939.1 1154.9 L2951.9 1154.4 L2964.7 1078.8 L2977.4 1051.1 L2990.2 1076.3 L3003.0 1106.4 L3015.8 1106.4 L3028.6 1213.4 L3041.3 1213.4 L3054.1 1213.4 L3066.9 1178.3 L3079.7 1178.3 L3092.5 1178.3 L3105.2 1147.4 L3118.0 1147.4 L3130.8 1147.4 L3143.6 1194.3 L3156.4 1194.3 L3169.1 1194.3 L3181.9 1291.1 L3194.7 1291.1 L3207.5 1291.1 L3220.3 1244.2 L3233.0 1244.2 L3245.8 1244.2 L3258.6 1244.2" fill="none" stroke="#C00000" stroke-width="12.5" stroke-linecap="round" stroke-linejoin="round"/>
<line x1="963.7" y1="948.95" x2="963.7" y2="1480" stroke="#004B9B" stroke-width="8.9" stroke-dasharray="9 9.05"/>
<rect x="773" y="859" width="385" height="95.6" fill="#004B9B"/>
<text x="804.2" y="921.1" font-size="49.4" font-weight="bold" fill="#fff" text-anchor="start" textLength="188.0" lengthAdjust="spacingAndGlyphs">Octubre</text>
<text x="1005.6" y="921.1" font-size="49.4" font-weight="bold" fill="#fff" text-anchor="start" textLength="120.9" lengthAdjust="spacingAndGlyphs">2010</text>
<line x1="462.35" y1="385.3" x2="542.45" y2="385.3" stroke="#000" stroke-width="12.5" stroke-linecap="round"/>
<text x="551.5" y="402.1" font-size="50.5" font-weight="normal" fill="#595959" text-anchor="start" textLength="169.6" lengthAdjust="spacingAndGlyphs">Precios</text>
<text x="735.8" y="402.1" font-size="50.5" font-weight="normal" fill="#595959" text-anchor="start" textLength="58.8" lengthAdjust="spacingAndGlyphs">de</text>
<text x="807.7" y="402.1" font-size="50.5" font-weight="normal" fill="#595959" text-anchor="start" textLength="210.0" lengthAdjust="spacingAndGlyphs">mercado</text>
<line x1="1126.35" y1="385.3" x2="1206.75" y2="385.3" stroke="#00B0F0" stroke-width="12.5" stroke-linecap="round"/>
<text x="1214.2" y="402.1" font-size="50.5" font-weight="normal" fill="#595959" text-anchor="start" textLength="216.7" lengthAdjust="spacingAndGlyphs">Previsión</text>
<line x1="1538.8500000000001" y1="385.3" x2="1620.1499999999999" y2="385.3" stroke="#00B050" stroke-width="8.3" stroke-linecap="round"/>
<text x="1627.7" y="402.1" font-size="50.5" font-weight="normal" fill="#595959" text-anchor="start" textLength="170.7" lengthAdjust="spacingAndGlyphs">Bandas</text>
<text x="1813.6" y="402.1" font-size="50.5" font-weight="normal" fill="#595959" text-anchor="start" textLength="58.5" lengthAdjust="spacingAndGlyphs">de</text>
<text x="1886.2" y="402.1" font-size="50.5" font-weight="normal" fill="#595959" text-anchor="start" textLength="223.3" lengthAdjust="spacingAndGlyphs">confianza</text>
<line x1="2220.25" y1="385.3" x2="2300.75" y2="385.3" stroke="#C00000" stroke-width="12.5" stroke-linecap="round"/>
<text x="2309.1" y="402.1" font-size="50.5" font-weight="normal" fill="#595959" text-anchor="start" textLength="132.2" lengthAdjust="spacingAndGlyphs">Curva</text>
<text x="2459.2" y="402.1" font-size="50.5" font-weight="normal" fill="#595959" text-anchor="start" textLength="58.5" lengthAdjust="spacingAndGlyphs">de</text>
<text x="2531.3" y="402.1" font-size="50.5" font-weight="normal" fill="#595959" text-anchor="start" textLength="171.7" lengthAdjust="spacingAndGlyphs">futuros</text>
<text x="2716.7" y="402.1" font-size="50.5" font-weight="normal" fill="#595959" text-anchor="start" textLength="132.7" lengthAdjust="spacingAndGlyphs">OMIP</text>
<text x="2862.9" y="402.1" font-size="50.5" font-weight="normal" fill="#595959" text-anchor="start" textLength="281.3" lengthAdjust="spacingAndGlyphs">10/07/2023</text>
<text x="96.2" y="1521.4" font-size="52" font-weight="normal" fill="#595959" text-anchor="end" textLength="221.7" lengthAdjust="spacingAndGlyphs" transform="rotate(-90 96.2 1521.4)">ene-2005</text>
<text x="185.7" y="1521.4" font-size="52" font-weight="normal" fill="#595959" text-anchor="end" textLength="219.1" lengthAdjust="spacingAndGlyphs" transform="rotate(-90 185.7 1521.4)">ago-2005</text>
<text x="275.1" y="1521.4" font-size="52" font-weight="normal" fill="#595959" text-anchor="end" textLength="227.8" lengthAdjust="spacingAndGlyphs" transform="rotate(-90 275.1 1521.4)">mar-2006</text>
<text x="364.6" y="1521.4" font-size="52" font-weight="normal" fill="#595959" text-anchor="end" textLength="208.1" lengthAdjust="spacingAndGlyphs" transform="rotate(-90 364.6 1521.4)">oct-2006</text>
<text x="454.1" y="1521.4" font-size="52" font-weight="normal" fill="#595959" text-anchor="end" textLength="233.7" lengthAdjust="spacingAndGlyphs" transform="rotate(-90 454.1 1521.4)">may-2007</text>
<text x="543.6" y="1521.4" font-size="52" font-weight="normal" fill="#595959" text-anchor="end" textLength="201.9" lengthAdjust="spacingAndGlyphs" transform="rotate(-90 543.6 1521.4)">dic-2007</text>
<text x="633.0" y="1521.4" font-size="52" font-weight="normal" fill="#595959" text-anchor="end" textLength="191.3" lengthAdjust="spacingAndGlyphs" transform="rotate(-90 633.0 1521.4)">jul-2008</text>
<text x="722.5" y="1521.4" font-size="52" font-weight="normal" fill="#595959" text-anchor="end" textLength="210.6" lengthAdjust="spacingAndGlyphs" transform="rotate(-90 722.5 1521.4)">feb-2009</text>
<text x="812.0" y="1521.4" font-size="52" font-weight="normal" fill="#595959" text-anchor="end" textLength="215.5" lengthAdjust="spacingAndGlyphs" transform="rotate(-90 812.0 1521.4)">sep-2009</text>
<text x="901.4" y="1521.4" font-size="52" font-weight="normal" fill="#595959" text-anchor="end" textLength="212.0" lengthAdjust="spacingAndGlyphs" transform="rotate(-90 901.4 1521.4)">abr-2010</text>
<text x="990.9" y="1521.4" font-size="52" font-weight="normal" fill="#595959" text-anchor="end" textLength="220.7" lengthAdjust="spacingAndGlyphs" transform="rotate(-90 990.9 1521.4)">nov-2010</text>
<text x="1080.4" y="1521.4" font-size="52" font-weight="normal" fill="#595959" text-anchor="end" textLength="208.3" lengthAdjust="spacingAndGlyphs" transform="rotate(-90 1080.4 1521.4)">jun-2011</text>
<text x="1169.8" y="1521.4" font-size="52" font-weight="normal" fill="#595959" text-anchor="end" textLength="221.7" lengthAdjust="spacingAndGlyphs" transform="rotate(-90 1169.8 1521.4)">ene-2012</text>
<text x="1259.3" y="1521.4" font-size="52" font-weight="normal" fill="#595959" text-anchor="end" textLength="219.1" lengthAdjust="spacingAndGlyphs" transform="rotate(-90 1259.3 1521.4)">ago-2012</text>
<text x="1348.8" y="1521.4" font-size="52" font-weight="normal" fill="#595959" text-anchor="end" textLength="227.8" lengthAdjust="spacingAndGlyphs" transform="rotate(-90 1348.8 1521.4)">mar-2013</text>
<text x="1438.2" y="1521.4" font-size="52" font-weight="normal" fill="#595959" text-anchor="end" textLength="208.1" lengthAdjust="spacingAndGlyphs" transform="rotate(-90 1438.2 1521.4)">oct-2013</text>
<text x="1527.7" y="1521.4" font-size="52" font-weight="normal" fill="#595959" text-anchor="end" textLength="233.7" lengthAdjust="spacingAndGlyphs" transform="rotate(-90 1527.7 1521.4)">may-2014</text>
<text x="1617.2" y="1521.4" font-size="52" font-weight="normal" fill="#595959" text-anchor="end" textLength="201.9" lengthAdjust="spacingAndGlyphs" transform="rotate(-90 1617.2 1521.4)">dic-2014</text>
<text x="1706.7" y="1521.4" font-size="52" font-weight="normal" fill="#595959" text-anchor="end" textLength="191.3" lengthAdjust="spacingAndGlyphs" transform="rotate(-90 1706.7 1521.4)">jul-2015</text>
<text x="1796.1" y="1521.4" font-size="52" font-weight="normal" fill="#595959" text-anchor="end" textLength="210.6" lengthAdjust="spacingAndGlyphs" transform="rotate(-90 1796.1 1521.4)">feb-2016</text>
<text x="1885.6" y="1521.4" font-size="52" font-weight="normal" fill="#595959" text-anchor="end" textLength="215.5" lengthAdjust="spacingAndGlyphs" transform="rotate(-90 1885.6 1521.4)">sep-2016</text>
<text x="1975.1" y="1521.4" font-size="52" font-weight="normal" fill="#595959" text-anchor="end" textLength="212.0" lengthAdjust="spacingAndGlyphs" transform="rotate(-90 1975.1 1521.4)">abr-2017</text>
<text x="2064.5" y="1521.4" font-size="52" font-weight="normal" fill="#595959" text-anchor="end" textLength="220.7" lengthAdjust="spacingAndGlyphs" transform="rotate(-90 2064.5 1521.4)">nov-2017</text>
<text x="2154.0" y="1521.4" font-size="52" font-weight="normal" fill="#595959" text-anchor="end" textLength="208.3" lengthAdjust="spacingAndGlyphs" transform="rotate(-90 2154.0 1521.4)">jun-2018</text>
<text x="2243.5" y="1521.4" font-size="52" font-weight="normal" fill="#595959" text-anchor="end" textLength="221.7" lengthAdjust="spacingAndGlyphs" transform="rotate(-90 2243.5 1521.4)">ene-2019</text>
<text x="2332.9" y="1521.4" font-size="52" font-weight="normal" fill="#595959" text-anchor="end" textLength="219.1" lengthAdjust="spacingAndGlyphs" transform="rotate(-90 2332.9 1521.4)">ago-2019</text>
<text x="2422.4" y="1521.4" font-size="52" font-weight="normal" fill="#595959" text-anchor="end" textLength="227.8" lengthAdjust="spacingAndGlyphs" transform="rotate(-90 2422.4 1521.4)">mar-2020</text>
<text x="2511.9" y="1521.4" font-size="52" font-weight="normal" fill="#595959" text-anchor="end" textLength="208.1" lengthAdjust="spacingAndGlyphs" transform="rotate(-90 2511.9 1521.4)">oct-2020</text>
<text x="2601.4" y="1521.4" font-size="52" font-weight="normal" fill="#595959" text-anchor="end" textLength="233.7" lengthAdjust="spacingAndGlyphs" transform="rotate(-90 2601.4 1521.4)">may-2021</text>
<text x="2690.8" y="1521.4" font-size="52" font-weight="normal" fill="#595959" text-anchor="end" textLength="201.9" lengthAdjust="spacingAndGlyphs" transform="rotate(-90 2690.8 1521.4)">dic-2021</text>
<text x="2780.3" y="1521.4" font-size="52" font-weight="normal" fill="#595959" text-anchor="end" textLength="191.3" lengthAdjust="spacingAndGlyphs" transform="rotate(-90 2780.3 1521.4)">jul-2022</text>
<text x="2869.8" y="1521.4" font-size="52" font-weight="normal" fill="#595959" text-anchor="end" textLength="210.6" lengthAdjust="spacingAndGlyphs" transform="rotate(-90 2869.8 1521.4)">feb-2023</text>
<text x="2959.2" y="1521.4" font-size="52" font-weight="normal" fill="#595959" text-anchor="end" textLength="215.5" lengthAdjust="spacingAndGlyphs" transform="rotate(-90 2959.2 1521.4)">sep-2023</text>
<text x="3048.7" y="1521.4" font-size="52" font-weight="normal" fill="#595959" text-anchor="end" textLength="212.0" lengthAdjust="spacingAndGlyphs" transform="rotate(-90 3048.7 1521.4)">abr-2024</text>
<text x="3138.2" y="1521.4" font-size="52" font-weight="normal" fill="#595959" text-anchor="end" textLength="220.7" lengthAdjust="spacingAndGlyphs" transform="rotate(-90 3138.2 1521.4)">nov-2024</text>
<text x="3227.6" y="1521.4" font-size="52" font-weight="normal" fill="#595959" text-anchor="end" textLength="208.3" lengthAdjust="spacingAndGlyphs" transform="rotate(-90 3227.6 1521.4)">jun-2025</text>
<text x="68.0" y="1862.0" font-size="43.5" font-weight="normal" fill="#000" text-anchor="start" textLength="157.0" lengthAdjust="spacingAndGlyphs">Fuente:</text>
<text x="236.9" y="1862.0" font-size="43.5" font-weight="normal" fill="#000" text-anchor="start" textLength="167.5" lengthAdjust="spacingAndGlyphs">AleaSoft</text>
<text x="417.6" y="1862.0" font-size="43.5" font-weight="normal" fill="#000" text-anchor="start" textLength="138.0" lengthAdjust="spacingAndGlyphs">Energy</text>
<text x="566.7" y="1862.0" font-size="43.5" font-weight="normal" fill="#000" text-anchor="start" textLength="236.0" lengthAdjust="spacingAndGlyphs">Forecasting</text>
<circle cx="2932.8" cy="1796.3" r="9.2" fill="#0046AD"/>
<circle cx="2910.2" cy="1819.8" r="9.2" fill="#0046AD"/>
<circle cx="2932.8" cy="1819.8" r="9.2" fill="#0046AD"/>
<circle cx="2887.4" cy="1842.4" r="9.2" fill="#0046AD"/>
<circle cx="2910.2" cy="1842.4" r="9.2" fill="#0046AD"/>
<circle cx="2932.8" cy="1842.4" r="9.2" fill="#0046AD"/>
<text x="2950.0" y="1851.7" font-size="78" font-weight="bold" fill="#0046AD" text-anchor="start" textLength="319.0" lengthAdjust="spacingAndGlyphs">AleaSoft</text>
<text x="3033.5" y="1879.7" font-size="25.4" font-weight="bold" fill="#0046AD" text-anchor="start" textLength="314.5" lengthAdjust="spacingAndGlyphs">ENERGY FORECASTING</text>
</svg></body></html>
